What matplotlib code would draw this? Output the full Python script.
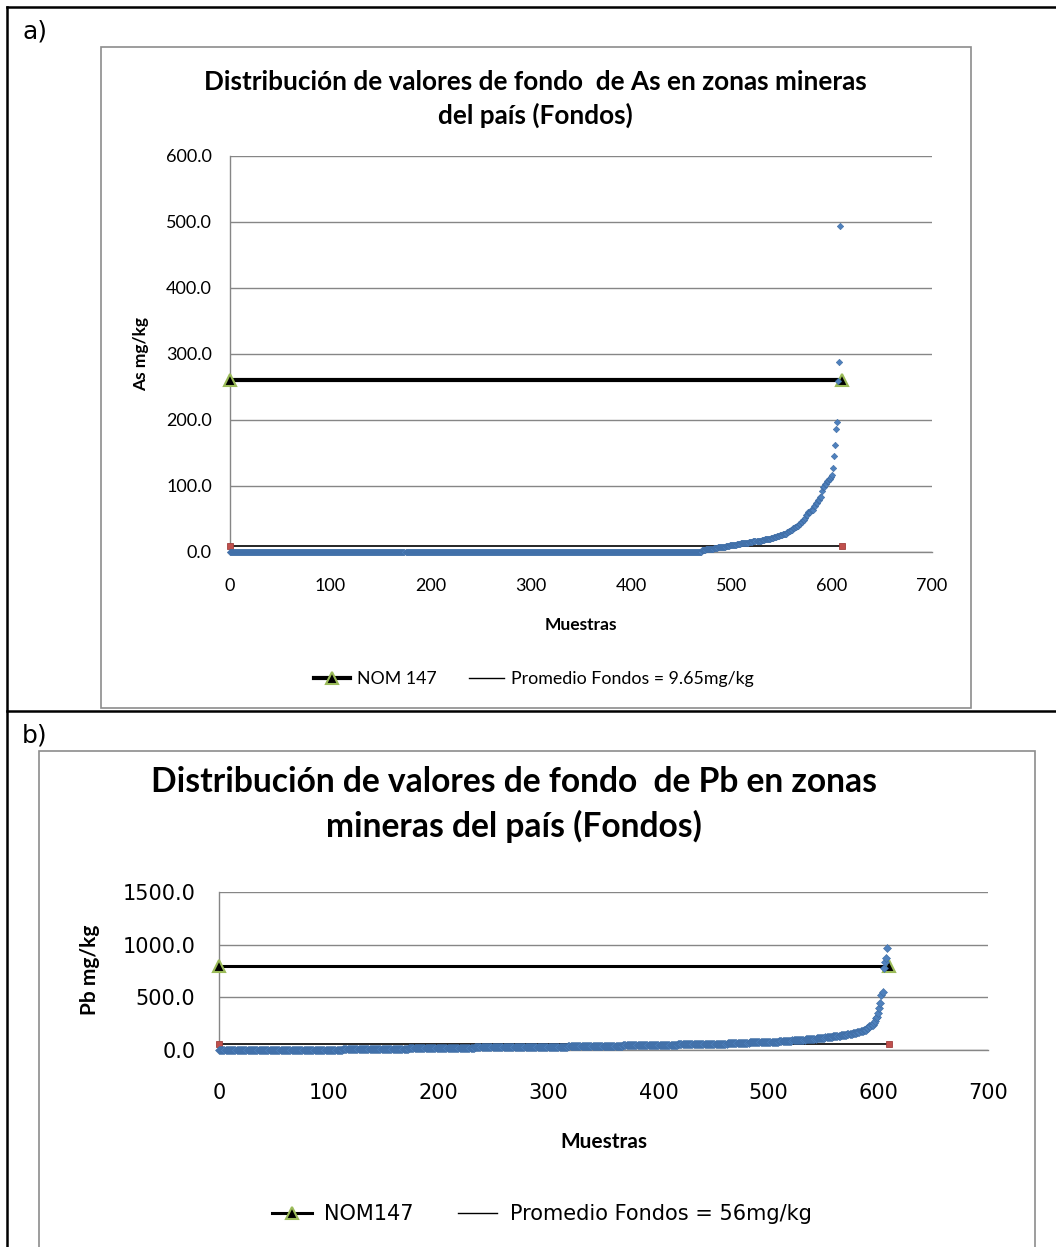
import numpy as np
import matplotlib
matplotlib.use("Agg")
import matplotlib.pyplot as plt
from matplotlib.lines import Line2D
from matplotlib.patches import Rectangle

# ---- data (sorted background values) ----
# As: value levels and how many samples sit at each level
AS_LEVELS = [0.2, 3, 4, 5, 6, 7, 8, 9, 10, 11, 12, 13, 14, 15, 16, 17, 18, 19, 20, 21,
             22, 24, 26, 28, 30, 32, 34, 36, 38, 40, 43, 46, 48, 52, 56,
             60, 64, 69, 74, 79, 84, 92, 99, 103, 107, 111, 114, 117,
             128, 145, 162, 187, 197, 259, 288, 494]
AS_COUNTS = [471, 4, 4, 4, 4, 4, 4, 4, 4, 3, 4, 4, 4, 4, 4, 4, 3, 3, 3, 3,
             3, 3, 3, 4, 2, 2, 2, 2, 2, 2, 2, 2, 2, 1, 2,
             3, 3, 2, 2, 2, 2, 1, 2, 2, 2, 2, 1, 1,
             1, 1, 1, 1, 1, 1, 1, 1]
AS_NOM = 260.0
AS_MEAN = 9.65

# Pb
PB_LEVELS = [2, 10, 14, 18, 21, 24, 27, 30, 34, 38, 43, 48, 54, 60, 67, 74,
             80, 87, 95, 104, 113, 122, 131, 140, 150, 160, 168, 180, 192,
             210, 225, 240, 255, 275, 300, 316, 350, 396, 450, 522, 554,
             780, 839, 871, 966]
PB_COUNTS = [113, 30, 30, 30, 30, 30, 30, 25, 25, 25, 25, 25, 25, 20, 20, 15,
             12, 12, 12, 10, 8, 7, 7, 6, 5, 4, 3, 3, 3,
             2, 2, 2, 1, 1, 1, 1, 1, 1, 1, 1, 1,
             1, 1, 1, 1]
PB_NOM = 800.0
PB_MEAN = 56.0

LINE_END = 610          # NOM / mean reference lines run from 0 to here

W, H = 1056, 1247
BLUE = "#4F81BD"
RED = "#C0504D"
GREEN = "#9BBB59"
GRAY = "#868686"
SANS = ["Lato", "DejaVu Sans"]
GOTHIC = ["DejaVu Sans"]


def fx(x):
    return x / W


def fy(y):
    return 1 - y / H


def ax_at(fig, left, top, right, bottom):
    return fig.add_axes([fx(left), fy(bottom), fx(right) - fx(left), fy(top) - fy(bottom)])


def draw_panel(ax, levels, counts, nom, mean, ymax, ystep, ms, nom_lw, nom_ms):
    vals = np.repeat(levels, counts)
    idx = np.arange(len(vals))
    ends = [0, LINE_END]
    ax.plot(ends, [nom, nom], color="black", lw=nom_lw, marker="^", ms=nom_ms,
            mfc="black", mec=GREEN, mew=1.5, zorder=3, clip_on=False)
    ax.plot(ends, [mean, mean], color="black", lw=1.2, marker="s", ms=4.5,
            mfc=RED, mec="#A0403D", mew=0.6, zorder=3, clip_on=False)
    ax.plot(idx, vals, ls="none", marker="D", ms=ms, color=BLUE,
            mec="#3D6BA3", mew=0.4, zorder=4, clip_on=False)
    ax.set_xlim(0, 700)
    ax.set_ylim(0, ymax)
    ax.set_xticks(np.arange(0, 701, 100))
    ax.set_yticks(np.arange(0, ymax + 1, ystep))
    ax.yaxis.set_major_formatter(matplotlib.ticker.FormatStrFormatter("%.1f"))
    ax.grid(axis="y", color=GRAY, lw=1.0)
    ax.set_axisbelow(True)
    for s in ("top", "right"):
        ax.spines[s].set_visible(False)
    for s in ("left", "bottom"):
        ax.spines[s].set_color(GRAY)
        ax.spines[s].set_linewidth(1.0)
    ax.tick_params(length=0)


def legend_handles(nom_lw, nom_ms):
    nom_h = Line2D([], [], color="black", lw=nom_lw, marker="^", ms=nom_ms,
                   mfc="black", mec=GREEN, mew=1.5)
    mean_h = Line2D([], [], color="black", lw=1.0)
    return nom_h, mean_h


fig = plt.figure(figsize=(W / 100, H / 100), dpi=100)

# table frame and chart boxes
frame_kw = dict(color="black", lw=1.8, transform=fig.transFigure)
fig.add_artist(Line2D([fx(7), fx(W)], [fy(7), fy(7)], **frame_kw))
fig.add_artist(Line2D([fx(7), fx(7)], [fy(7), fy(H)], **frame_kw))
fig.add_artist(Line2D([fx(7), fx(W)], [fy(711), fy(711)], **frame_kw))
fig.add_artist(Rectangle((fx(101), fy(708)), fx(971) - fx(101), fy(47) - fy(708),
                         fill=False, ec="#8C8C8C", lw=1.2, transform=fig.transFigure))
fig.add_artist(Rectangle((fx(39), fy(H + 5)), fx(1035) - fx(39), fy(751) - fy(H + 5),
                         fill=False, ec="#8C8C8C", lw=1.2, transform=fig.transFigure))
fig.text(fx(22), fy(32), "a)", fontsize=18, family=GOTHIC, va="center", ha="left")
fig.text(fx(22), fy(735), "b)", fontsize=18, family=GOTHIC, va="center", ha="left")

# ---- panel a: As ----
ax1 = ax_at(fig, 230, 156, 932, 552)
draw_panel(ax1, AS_LEVELS, AS_COUNTS, AS_NOM, AS_MEAN, 600, 100, 3.3, 3.0, 9)
ax1.tick_params(axis="y", pad=13, labelsize=13)
ax1.tick_params(axis="x", pad=19, labelsize=13)
for lab in ax1.get_xticklabels() + ax1.get_yticklabels():
    lab.set_family(SANS)
fig.text(fx(535), fy(82), "Distribución de valores de fondo  de As en zonas mineras",
         fontsize=18.8, weight="bold", family=SANS, ha="center", va="center")
fig.text(fx(535), fy(115), "del país (Fondos)",
         fontsize=18.8, weight="bold", family=SANS, ha="center", va="center")
fig.text(fx(581), fy(625), "Muestras", fontsize=12.5, weight="bold", family=SANS,
         ha="center", va="center")
fig.text(fx(141), fy(354), "As mg/kg", fontsize=12.5, weight="bold", family=SANS,
         ha="center", va="center", rotation=90)
h1, h2 = legend_handles(3.0, 8)
fig.legend([h1, h2], ["NOM 147", "Promedio Fondos = 9.65mg/kg"], loc="center",
           bbox_to_anchor=(fx(534), fy(679)), ncol=2, frameon=False,
           prop={"family": SANS, "size": 12.8}, handlelength=2.0,
           handletextpad=0.4, columnspacing=1.8)

# ---- panel b: Pb ----
ax2 = ax_at(fig, 219, 892, 988, 1050)
draw_panel(ax2, PB_LEVELS, PB_COUNTS, PB_NOM, PB_MEAN, 1500, 500, 4.2, 2.2, 9)
ax2.tick_params(axis="y", pad=17, labelsize=15)
ax2.tick_params(axis="x", pad=24, labelsize=15)
for lab in ax2.get_xticklabels() + ax2.get_yticklabels():
    lab.set_family(GOTHIC)
fig.text(fx(514), fy(782), "Distribución de valores de fondo  de Pb en zonas",
         fontsize=24.2, weight="bold", family=SANS, ha="center", va="center")
fig.text(fx(514), fy(826), "mineras del país (Fondos)",
         fontsize=24.2, weight="bold", family=SANS, ha="center", va="center")
fig.text(fx(604), fy(1142), "Muestras", fontsize=15, weight="bold", family=SANS,
         ha="center", va="center")
fig.text(fx(90), fy(970), "Pb mg/kg", fontsize=15, weight="bold", family=SANS,
         ha="center", va="center", rotation=90)
h1, h2 = legend_handles(2.2, 8)
fig.legend([h1, h2], ["NOM147", "Promedio Fondos = 56mg/kg"], loc="center",
           bbox_to_anchor=(fx(542), fy(1214)), ncol=2, frameon=False,
           prop={"family": GOTHIC, "size": 15}, handlelength=1.9,
           handletextpad=0.6, columnspacing=2.1)

fig.savefig("out.png", dpi=100)
